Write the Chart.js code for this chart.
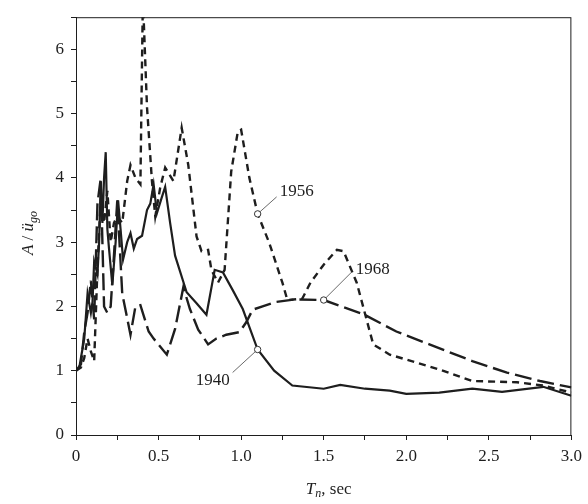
<!DOCTYPE html>
<html><head><meta charset="utf-8">
<script src="https://cdn.jsdelivr.net/npm/chart.js@4/dist/chart.umd.min.js"></script>
<style>html,body{margin:0;padding:0;background:#fff}#wrap{width:588px;height:504px}</style>
</head><body><div id="wrap"><canvas id="c" width="588" height="504"></canvas></div>
<script>
// ---- data ----
const t1940 = [0,0.02,0.04,0.05,0.07,0.09,0.10,0.11,0.13,0.14,0.15,0.16,0.17,0.18,0.19,0.20,0.22,0.24,0.255,0.27,0.285,0.31,0.33,0.35,0.37,0.40,0.43,0.45,0.47,0.49,0.52,0.54,0.57,0.60,0.67,0.73,0.79,0.84,0.89,0.95,1.01,1.10,1.20,1.31,1.50,1.60,1.75,1.90,2.00,2.20,2.40,2.58,2.83,3.00];
const a1940 = [1.0,1.05,1.35,1.5,2.2,1.9,2.07,2.7,2.5,3.0,3.9,3.3,4.0,4.4,3.2,2.9,2.33,3.0,3.65,3.2,2.73,3.0,3.14,2.9,3.05,3.1,3.5,3.6,3.9,3.45,3.7,3.86,3.3,2.79,2.22,2.05,1.87,2.57,2.53,2.25,1.96,1.33,1.0,0.77,0.72,0.78,0.72,0.69,0.64,0.66,0.72,0.67,0.75,0.61];

const t1956 = [0,0.03,0.05,0.07,0.09,0.11,0.13,0.15,0.17,0.19,0.21,0.23,0.25,0.28,0.31,0.33,0.36,0.39,0.405,0.43,0.46,0.48,0.51,0.54,0.59,0.64,0.68,0.73,0.76,0.80,0.82,0.86,0.90,0.94,0.98,1.00,1.05,1.10,1.17,1.25,1.28,1.37,1.42,1.50,1.58,1.62,1.70,1.80,1.90,2.20,2.40,2.67,2.83,3.00];
const a1956 = [1.0,1.05,1.2,1.5,1.3,1.15,2.6,3.7,3.3,3.8,3.0,3.3,3.4,3.3,3.95,4.2,4.0,3.9,6.8,5.1,3.95,3.4,3.85,4.16,3.95,4.78,4.2,3.09,2.86,2.88,2.57,2.37,2.57,4.1,4.72,4.75,4.0,3.44,2.99,2.37,2.1,2.12,2.37,2.65,2.88,2.86,2.37,1.41,1.25,1.02,0.84,0.82,0.77,0.66];

const t1968 = [0,0.03,0.05,0.07,0.09,0.11,0.13,0.15,0.17,0.19,0.21,0.23,0.25,0.28,0.33,0.36,0.39,0.44,0.47,0.55,0.60,0.65,0.69,0.74,0.80,0.85,0.91,0.99,1.03,1.07,1.13,1.21,1.33,1.50,1.74,1.94,2.14,2.40,2.61,2.81,3.00];
const a1968 = [1.0,1.1,1.6,1.9,2.4,1.8,3.6,4.0,2.0,1.9,2.0,2.8,3.65,2.2,1.56,2.0,2.02,1.61,1.5,1.25,1.65,2.3,1.96,1.64,1.41,1.5,1.56,1.6,1.75,1.95,2.0,2.07,2.11,2.1,1.88,1.61,1.41,1.15,0.97,0.84,0.74];

const markerYears = ['1940','1956','1968'];
const markerT = [1.10, 1.10, 1.50];
const markerA = [1.33, 3.44, 2.10];

const xTickLabels = ['0','0.5','1.0','1.5','2.0','2.5','3.0'];
const yTickLabels = ['0','1','2','3','4','5','6'];

// ---- styling / layout (not data) ----
const INK = '#1e1e1e';
const FONT = "'Liberation Serif', 'DejaVu Serif', serif";
const labelOffsets = { // pixel offsets: leader end, text anchor, alignment
  '1940': {lx:-25, ly:23, tx:-28, ty:31, align:'right'},
  '1956': {lx:19, ly:-17, tx:22, ty:-22, align:'left'},
  '1968': {lx:28, ly:-28, tx:32, ty:-30, align:'left'}
};

const pts = (t, a) => t.map((v, i) => ({x: v, y: a[i]}));

const annot = {
  id: 'annot',
  afterDatasetsDraw(chart) {
    const ctx = chart.ctx, xs = chart.scales.x, ys = chart.scales.y, ca = chart.chartArea;
    ctx.save();
    // frame
    ctx.strokeStyle = INK; ctx.lineWidth = 1;
    ctx.strokeRect(ca.left + 0.5, ca.top + 0.5, ca.right - ca.left - 1, ca.bottom - ca.top);
    // leaders + labels
    ctx.font = '17px ' + FONT; ctx.fillStyle = INK; ctx.textBaseline = 'middle';
    markerYears.forEach((yr, i) => {
      const px = xs.getPixelForValue(markerT[i]), py = ys.getPixelForValue(markerA[i]);
      const o = labelOffsets[yr];
      const ang = Math.atan2(o.ly, o.lx);
      ctx.beginPath(); ctx.lineWidth = 0.8; ctx.strokeStyle = '#444';
      ctx.moveTo(px + 3.3 * Math.cos(ang), py + 3.3 * Math.sin(ang));
      ctx.lineTo(px + o.lx, py + o.ly); ctx.stroke();
      ctx.textAlign = o.align;
      ctx.fillText(yr, px + o.tx, py + o.ty);
    });
    // x title: T_n, sec
    const cx = (ca.left + ca.right) / 2 + 5, by = 494;
    ctx.textBaseline = 'alphabetic'; ctx.textAlign = 'left';
    const fMainI = 'italic 17px ' + FONT, fSubI = 'italic 12px ' + FONT, fMain = '17px ' + FONT;
    ctx.font = fMainI; const wT = ctx.measureText('T').width;
    ctx.font = fSubI; const wn = ctx.measureText('n').width;
    ctx.font = fMain; const ws = ctx.measureText(', sec').width;
    let x0 = cx - (wT + wn + ws) / 2;
    ctx.font = fMainI; ctx.fillText('T', x0, by); x0 += wT;
    ctx.font = fSubI; ctx.fillText('n', x0, by + 3); x0 += wn;
    ctx.font = fMain; ctx.fillText(', sec', x0, by);
    // y title: A / ü_go
    ctx.save();
    ctx.translate(33, 233); ctx.rotate(-Math.PI / 2);
    ctx.font = fMainI; const wA = ctx.measureText('A').width;
    ctx.font = fMain; const wsl = ctx.measureText(' / ').width;
    ctx.font = fMainI; const wu = ctx.measureText('ü').width;
    ctx.font = fSubI; const wg = ctx.measureText('go').width;
    let y0 = -(wA + wsl + wu + wg) / 2;
    ctx.font = fMainI; ctx.fillText('A', y0, 0); y0 += wA;
    ctx.font = fMain; ctx.fillText(' / ', y0, 0); y0 += wsl;
    ctx.font = fMainI; ctx.fillText('ü', y0, 0); y0 += wu;
    ctx.font = fSubI; ctx.fillText('go', y0, 4);
    ctx.restore();
    ctx.restore();
  }
};

new Chart(document.getElementById('c'), {
  type: 'scatter',
  data: {
    datasets: [
      {label: '1940', data: pts(t1940, a1940), showLine: true, borderColor: INK, borderWidth: 2.2, pointRadius: 0, tension: 0, order: 3},
      {label: '1956', data: pts(t1956, a1956), showLine: true, borderColor: INK, borderWidth: 2.4, borderDash: [7, 5], pointRadius: 0, tension: 0, order: 2},
      {label: '1968', data: pts(t1968, a1968), showLine: true, borderColor: INK, borderWidth: 2.4, borderDash: [17, 6], pointRadius: 0, tension: 0, order: 1},
      {label: 'markers', data: pts(markerT, markerA), showLine: false, pointRadius: 3.2, pointBackgroundColor: '#fff', pointBorderColor: '#333', pointBorderWidth: 1, order: 0}
    ]
  },
  options: {
    responsive: false, animation: false, devicePixelRatio: 1,
    layout: {padding: {left: 0, right: 16, top: 12, bottom: 0}},
    plugins: {legend: {display: false}, tooltip: {enabled: false}},
    scales: {
      x: {
        type: 'linear', min: 0, max: 3,
        ticks: {stepSize: 0.25, autoSkip: false, maxRotation: 0, color: INK, padding: 6,
          font: {family: FONT, size: 17},
          callback: v => { const k = v * 2; return Math.abs(k - Math.round(k)) < 1e-6 ? xTickLabels[Math.round(k)] : ''; }},
        grid: {drawOnChartArea: false, drawTicks: true, tickLength: 5, color: INK},
        border: {display: true, color: INK, width: 1},
        afterFit: s => { s.height = 69; }
      },
      y: {
        min: 0, max: 6.5,
        ticks: {stepSize: 0.5, autoSkip: false, color: INK, padding: 7,
          font: {family: FONT, size: 17},
          callback: v => Number.isInteger(v) ? yTickLabels[v] : ''},
        grid: {drawOnChartArea: false, drawTicks: true, tickLength: 5, color: INK},
        border: {display: true, color: INK, width: 1},
        afterFit: s => { s.width = 76; }
      }
    }
  },
  plugins: [annot]
});
</script>
</body></html>
